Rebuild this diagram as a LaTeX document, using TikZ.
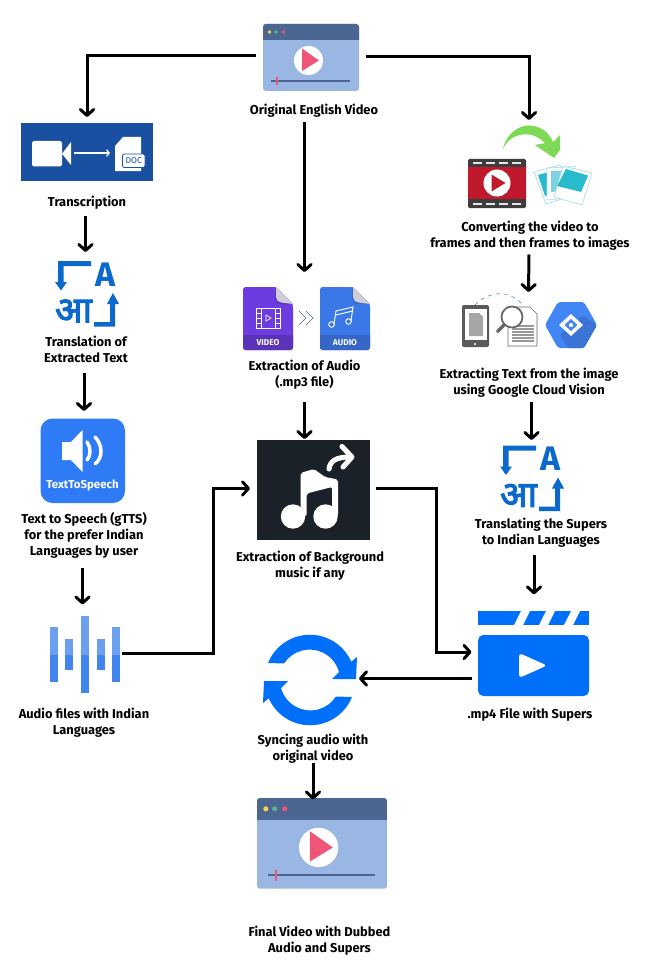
\documentclass[tikz,border=0pt]{standalone}
\usepackage{fontspec}
\usetikzlibrary{arrows.meta,calc}
\setmainfont{Fira Sans}
\newfontfamily\deva[Script=Devanagari,FakeBold=3]{Noto Sans}
\definecolor{vbody}{HTML}{9AB7E3}
\definecolor{vhead}{HTML}{4B6690}
\definecolor{vpink}{HTML}{EF5579}
\definecolor{vyel}{HTML}{F7D54A}
\definecolor{vgrn}{HTML}{5FB58A}
\definecolor{trblue}{HTML}{1A50A2}
\definecolor{tlblue}{HTML}{0B68CD}
\definecolor{ttsblue}{HTML}{2F7BF6}
\definecolor{wlight}{HTML}{6C9FF0}
\definecolor{wdark}{HTML}{4285EE}
\definecolor{vidpur}{HTML}{6C3CE0}
\definecolor{vidpurd}{HTML}{5A33B8}
\definecolor{audblu}{HTML}{3B78E7}
\definecolor{audblud}{HTML}{3566C8}
\definecolor{foldg}{HTML}{CFCDD8}
\definecolor{musicbg}{HTML}{1B2129}
\definecolor{clapblue}{HTML}{0070FB}
\definecolor{filmred}{HTML}{C0192C}
\definecolor{filmdk}{HTML}{3D3D3D}
\definecolor{teal1}{HTML}{27BCCD}
\definecolor{teal2}{HTML}{7FD2E2}
\definecolor{phline}{HTML}{A5DDE8}
\definecolor{leaf}{HTML}{7ED957}
\definecolor{gblue}{HTML}{4285F4}
\definecolor{gblued}{HTML}{3B74D4}
\definecolor{dashb}{HTML}{5B9BC0}
\tikzset{
  x=0.75pt,y=0.75pt,
  lbl/.style={align=center,inner sep=0pt,text=black,font=\fontsize{9.65}{12}\selectfont\bfseries},
  iconbox/.style={inner sep=0pt,outer sep=0pt,draw=none},
  conn/.style={line width=2.25pt,draw=black,-{Straight Barb[length=4.5pt,width=10pt,round]}},
}
\newcommand\vidicon[3]{%
\begin{scope}[shift={(#1,-#2)},scale=#3]
  \fill[vbody,rounded corners=2.2pt] (0,0) rectangle (96,-67);
  \begin{scope}
    \clip (-1,1) rectangle (97,-16);
    \fill[vhead,rounded corners=2.2pt] (0,0) rectangle (96,-67);
  \end{scope}
  \fill[vyel] (6.5,-8) circle (1.9);
  \fill[vgrn] (13,-8) circle (1.9);
  \fill[vpink] (20.5,-8) circle (1.9);
  \fill[white] (45.5,-36.5) circle (14.5);
  \fill[vpink] (39,-24.5) -- (39,-47) -- (56,-36.5) -- cycle;
  \fill[vhead] (8,-56.3) rectangle (87,-57.7);
  \fill[vpink] (13,-53) rectangle (15,-61);
\end{scope}}
\newcommand\tlicon[2]{%
\begin{scope}[shift={(#1,-#2)}]
  \fill[tlblue] (37,0) -- (4,0) -- (4,-21) -- (1,-21) -- (7,-29.5) -- (13,-21) -- (9.5,-21) -- (9.5,-5) -- (37,-5) -- cycle;
  \fill[tlblue] (40,-61) -- (56,-61) -- (56,-43) -- (53,-43) -- (59,-32) -- (65,-43) -- (61,-43) -- (61,-65.5) -- (40,-65.5) -- cycle;
  \node[text=tlblue,inner sep=0pt,font=\fontsize{25.5}{26}\selectfont\bfseries] at (52,-13.5) {A};
  \node[text=tlblue,inner sep=0pt,font=\deva\fontsize{27}{28}\selectfont] at (19.5,-50) {आ};
\end{scope}}
\newcommand\fileicon[5]{% x, colour, dark colour, word, glyph macro
\begin{scope}[shift={(#1,-287)}]
  \fill[#2,rounded corners=2pt] (0,0) -- (33,0) -- (50,-17) -- (50,-63) -- (0,-63) -- cycle;
  \begin{scope}
    \clip (-1,-48) rectangle (51,-64);
    \fill[#3,rounded corners=2pt] (0,0) -- (33,0) -- (50,-17) -- (50,-63) -- (0,-63) -- cycle;
  \end{scope}
  \fill[#3] (32,0) -- (32,-11) .. controls (32,-15) and (35,-17) .. (38,-17) -- (50,-17) -- cycle;
  \fill[foldg] (33,0) -- (50,-17) -- (38,-15.5) .. controls (35,-15) and (33,-13) .. (33,-10) -- cycle;
  \node[text=white,inner sep=0pt,font=\fontsize{6.3}{7}\selectfont\bfseries] at (25,-55.5) {#4};
  #5
\end{scope}}
\begin{document}
\begin{tikzpicture}
\useasboundingbox (0,0) rectangle (655,-970);
\fill[white] (0,0) rectangle (655,-970);

% ---------- icon boxes
\node[iconbox,minimum width=72pt,minimum height=50.25pt] (orig) at (311,-57.5) {};
\node[iconbox,minimum width=99pt,minimum height=43.5pt] (transcr) at (87,-152) {};
\node[iconbox,minimum width=48pt,minimum height=48.75pt] (tlone) at (86.5,-293.5) {};
\node[iconbox,minimum width=63.4pt,minimum height=63.4pt] (tts) at (82.75,-460.75) {};
\node[iconbox,minimum width=52.5pt,minimum height=57.75pt] (waves) at (85,-654.5) {};
\node[iconbox,minimum width=95.25pt,minimum height=47.25pt] (files) at (306.5,-318.5) {};
\node[iconbox,minimum width=84.4pt,minimum height=75pt] (music) at (313.25,-490) {};
\node[iconbox,minimum width=93pt,minimum height=63pt] (frames) at (530,-167) {};
\node[iconbox,minimum width=101pt,minimum height=41pt] (extract) at (529.5,-321) {};
\node[iconbox,minimum width=48pt,minimum height=48.75pt] (tltwo) at (531.5,-478) {};
\node[iconbox,minimum width=83.25pt,minimum height=64pt] (clap) at (533.5,-653.5) {};
\node[iconbox,minimum width=70.5pt,minimum height=67pt] (sync) at (310,-679.5) {};
\node[iconbox,minimum width=97.5pt,minimum height=68.25pt] (final) at (322,-843.5) {};

% ---------- labels
\node[lbl] (lorig) at (314,-111) {\strut Original English Video};
\node[lbl] (ltr) at (87,-203) {\strut Transcription};
\node[lbl] (ltl) at (86,-351) {\strut Translation of\\\strut Extracted Text};
\node[lbl] (ltts) at (84,-536.5) {\strut Text to Speech (gTTS)\\\strut for the prefer Indian\\\strut Languages by user};
\node[lbl] (lwav) at (84,-723) {\strut Audio files with Indian\\\strut Languages};
\node[lbl] (lfil) at (304.5,-375) {\strut Extraction of Audio\\\strut (.mp3 file)};
\node[lbl] (lmus) at (310,-566.5) {\strut Extraction of Background\\\strut music if any};
\node[lbl] (lfra) at (530,-236) {\strut Converting the video to\\\strut frames and then frames to images};
\node[lbl] (lext) at (529,-383) {\strut Extracting Text from the image\\\strut using Google Cloud Vision};
\node[lbl] (ltt2) at (541,-533.5) {\strut Translating the Supers\\\strut to Indian Languages};
\node[lbl] (lcla) at (530,-715) {\strut .mp4 File with Supers};
\node[lbl] (lsyn) at (313,-749.5) {\strut Syncing audio with\\\strut original video};
\node[lbl] (lfin) at (319.5,-941) {\strut Final Video with Dubbed\\\strut Audio and Supers};

% ---------- video windows
\vidicon{263}{24}{1}
\vidicon{257}{798}{1.354}

% ---------- transcription
\fill[trblue] (21,-123) rectangle (153,-181);
\fill[white,rounded corners=1.2pt] (32,-141) rectangle (62,-166.5);
\fill[white] (62,-153.7) -- (71,-142) -- (71,-165) -- cycle;
\draw[white,line width=0.9pt,-{Straight Barb[length=2pt,width=5pt]}] (74,-153) -- (110,-153);
\fill[white] (123,-137) -- (141,-137) -- (141,-171) -- (115,-171) -- (115,-146) -- cycle;
\fill[white,draw=trblue,line width=0.6pt,rounded corners=1.5pt] (122.5,-154) rectangle (145,-167.5);
\node[text=trblue,inner sep=0pt,font=\fontsize{6.4}{7}\selectfont] at (133.7,-160.7) {DOC};

% ---------- translation icons
\tlicon{54}{261}
\tlicon{499}{445.5}

% ---------- text to speech
\fill[ttsblue,rounded corners=9pt] (40.5,-418.5) rectangle (125,-503);
\fill[white] (62,-442) -- (71,-442) -- (82.5,-430) -- (82.5,-472) -- (71,-460) -- (62,-460) -- cycle;
\draw[white,line width=2.6pt,line cap=round] (87,-442) .. controls (91,-447) and (91,-456) .. (87,-460);
\draw[white,line width=2.6pt,line cap=round] (95,-437) .. controls (103,-445) and (103,-458) .. (95,-464);
\node[text=white,inner sep=0pt,font=\fontsize{8.6}{10}\selectfont\bfseries] at (82.5,-485.5) {TextToSpeech};

% ---------- waves
\fill[wlight] (50,-627) rectangle (58,-654.5);
\fill[wdark] (50,-654.5) rectangle (58,-682);
\fill[wlight] (65,-639) rectangle (73,-654.5);
\fill[wdark] (65,-654.5) rectangle (73,-670);
\fill[wlight] (81,-616) rectangle (89,-654.5);
\fill[wdark] (81,-654.5) rectangle (89,-693);
\fill[wlight] (97,-639) rectangle (105,-654.5);
\fill[wdark] (97,-654.5) rectangle (105,-670);
\fill[wlight] (112,-627) rectangle (120,-654.5);
\fill[wdark] (112,-654.5) rectangle (120,-682);

% ---------- video / audio files
\fileicon{243}{vidpur}{vidpurd}{VIDEO}{%
  \draw[white,line width=0.7pt] (13,-21) rectangle (37,-41);
  \draw[white,line width=0.7pt] (18,-21) -- (18,-41) (32,-21) -- (32,-41);
  \draw[white,line width=0.5pt] (13,-26) -- (18,-26) (13,-31) -- (18,-31) (13,-36) -- (18,-36) (32,-26) -- (37,-26) (32,-31) -- (37,-31) (32,-36) -- (37,-36);
  \draw[white,line width=0.5pt] (23,-28) -- (23,-34) -- (28,-31) -- cycle;}
\fileicon{320}{audblu}{audblud}{AUDIO}{%
  \draw[white,line width=0.7pt] (14,-37) -- (16,-24) -- (33,-20) -- (31,-34);
  \draw[white,line width=0.7pt] (16,-28) -- (32.5,-24);
  \draw[white,line width=0.7pt] (11.5,-37.5) circle (2.8);
  \draw[white,line width=0.7pt] (28.5,-34.5) circle (2.8);}
\draw[vhead,line width=0.5pt] (299,-311) -- (306,-318) -- (299,-325);
\draw[vhead,line width=0.5pt] (306,-311) -- (313,-318) -- (306,-325);

% ---------- music box
\fill[musicbg] (257,-440) rectangle (369.5,-540);
\fill[white] (293,-516.5) circle (12.2);
\fill[white] (325.5,-516.5) circle (12.2);
\fill[white,rounded corners=1.5pt] (300.5,-516) -- (300.5,-473) -- (314,-469) -- (325,-477) -- (338,-479.5) -- (338,-516) -- (332,-516) -- (332,-487) -- (306.7,-493.5) -- (306.7,-516) -- cycle;
\draw[white,line width=3.8pt,line cap=round] (329,-469) .. controls (330,-461) and (336,-457) .. (350,-457);
\draw[white,line width=3.8pt,line cap=round,line join=round] (342,-446.5) -- (352,-457) -- (343,-467);

% ---------- clapper
\fill[clapblue] (478,-611) rectangle (589,-625);
\foreach \sx in {514,539,564}{\fill[white] (\sx,-625) -- (\sx+9,-625) -- (\sx+16,-611) -- (\sx+7,-611) -- cycle;}
\fill[clapblue,rounded corners=4pt] (478,-635) -- (589,-635) -- (589,-696) -- (478,-696) -- cycle;
\fill[white,rounded corners=2.5pt] (519,-653) -- (547,-665.5) -- (519,-678) -- cycle;

% ---------- sync
\fill[clapblue] (268,-663) arc (158:23.7:45.2) -- (357,-657) -- (356,-679) -- (332,-679) -- (339,-672) arc (15.4:147:30.5) -- cycle;
\begin{scope}[rotate around={180:(310,-680)}]
\fill[clapblue] (268,-663) arc (158:23.7:45.2) -- (357,-657) -- (356,-679) -- (332,-679) -- (339,-672) arc (15.4:147:30.5) -- cycle;
\end{scope}

% ---------- film + photos
\fill[filmdk,rounded corners=1pt] (468,-159) rectangle (526,-208);
\fill[filmred] (468,-167) rectangle (526,-199);
\foreach \dx in {473,486,499,512}{\fill[white!90!black] (\dx,-162) rectangle (\dx+9,-164.3);\fill[white!90!black] (\dx,-202.5) rectangle (\dx+9,-204.8);}
\fill[white] (497,-183) circle (13.5);
\fill[filmred] (491.5,-174.5) -- (491.5,-191.5) -- (505.5,-183) -- cycle;
\draw[phline,fill=white,line width=0.5pt] (534,-172) -- (560,-165) -- (568,-197) -- (546,-204) -- cycle;
\fill[teal1] (538,-175) -- (556,-170) -- (562,-190) -- (545,-196) -- cycle;
\draw[phline,fill=white,line width=0.5pt] (547,-168) -- (575,-166.5) -- (576,-197) -- (547,-200) -- cycle;
\fill[teal2] (551,-171) -- (571,-170) -- (571,-190) -- (551,-192) -- cycle;
\draw[phline,fill=white,line width=0.5pt] (563,-166) -- (592,-173) -- (582,-205) -- (554,-197) -- cycle;
\fill[teal1] (566,-169) -- (588,-175.5) -- (581,-192) -- (557,-186) -- cycle;
\fill[leaf] (503,-149) .. controls (506,-133) and (520,-125) .. (529,-125.5) .. controls (541,-126) and (549,-132) .. (553,-142) -- (560,-135) -- (560,-150) -- (554,-158) -- (535,-145) -- (545,-143) .. controls (537,-135) and (528,-133) .. (520,-135) .. controls (513,-136) and (506,-142) .. (503,-149) -- cycle;

% ---------- extraction icon
\draw[dashb,line width=0.5pt,dashed] (475,-305) .. controls (490,-290) and (510,-290) .. (523,-305);
\fill[filmdk!85!white,rounded corners=1.5pt] (462,-305) rectangle (489,-347);
\fill[white] (464.5,-309) rectangle (486.5,-340);
\fill[black!35] (469,-313) -- (479,-313) -- (483,-317) -- (483,-336) -- (469,-336) -- cycle;
\fill[white] (475,-344) circle (1.1);
\draw[black!60,fill=white,line width=0.5pt] (508,-307) -- (530,-307) -- (537,-314) -- (537,-346) -- (508,-346) -- cycle;
\foreach \ly in {-326,-329,-332,-335,-338,-341}{\draw[black!40,line width=0.8pt] (512,\ly) -- (534,\ly);}
\draw[black!60,line width=2.6pt,line cap=round] (504,-325) -- (497.5,-331.5);
\draw[black!60,fill=white,line width=1.3pt] (512,-317) circle (10.5);
\fill[gblue,rounded corners=2pt] (558,-302) -- (584,-302) -- (597,-325) -- (584,-348) -- (558,-348) -- (545,-325) -- cycle;
\fill[gblued,rounded corners=1pt] (583,-315.5) -- (597,-325) -- (584,-348) -- (568,-348) -- (560,-335) -- cycle;
\fill[white] (559,-325) -- (571,-314) -- (583,-325) -- (571,-336) -- cycle;
\fill[gblue] (564.5,-325) -- (571,-319) -- (577.5,-325) -- (571,-331) -- cycle;
\fill[white] (571,-325) circle (2.1);

% ---------- connectors
\draw[conn] ([shift={(-7,1.5)}]orig.west) -| ([shift={(0,6)}]transcr.north);
\draw[conn] ([shift={(-9.5,-11)}]lorig.center) -- ([shift={(-2,15)}]files.north);
\draw[conn] ([shift={(7,0.5)}]orig.east) -| ([shift={(-1,5)}]frames.north);
\draw[conn] ([shift={(-1.5,-13)}]ltr.center) -- ([shift={(-1,9)}]tlone.north);
\draw[conn] ([shift={(-2,-22)}]ltl.center) -- ([shift={(1.25,7.5)}]tts.north);
\draw[conn] ([shift={(-1.5,-31)}]ltts.center) -- ([shift={(-2.5,11.5)}]waves.north);
\draw[conn] ([shift={(0,-27)}]lfil.center) -- ([shift={(-8.75,1)}]music.north);
\draw[conn] ([shift={(2,1.5)}]waves.east) -| (213,-488.5) -- ([shift={(-7,1.5)}]music.west);
\draw[conn] ([shift={(6.5,2)}]music.east) -| (436.5,-652) -- ([shift={(-6.5,1.5)}]clap.west);
\draw[conn] ([shift={(-1,-18.5)}]lfra.center) -- ([shift={(-1,1.7)}]extract.north);
\draw[conn] ([shift={(2.5,-19)}]lext.center) -- ([shift={(0,5.5)}]tltwo.north);
\draw[conn] ([shift={(-7,-21.5)}]ltt2.center) -- ([shift={(.5,16.5)}]clap.north);
\draw[conn] ([shift={(-6,-25)}]clap.west) -- ([shift={(2,1)}]sync.east);
\draw[conn] ([shift={(0,-13.5)}]lsyn.center) -- ([shift={(-9,-1.5)}]final.north);
\end{tikzpicture}
\end{document}
